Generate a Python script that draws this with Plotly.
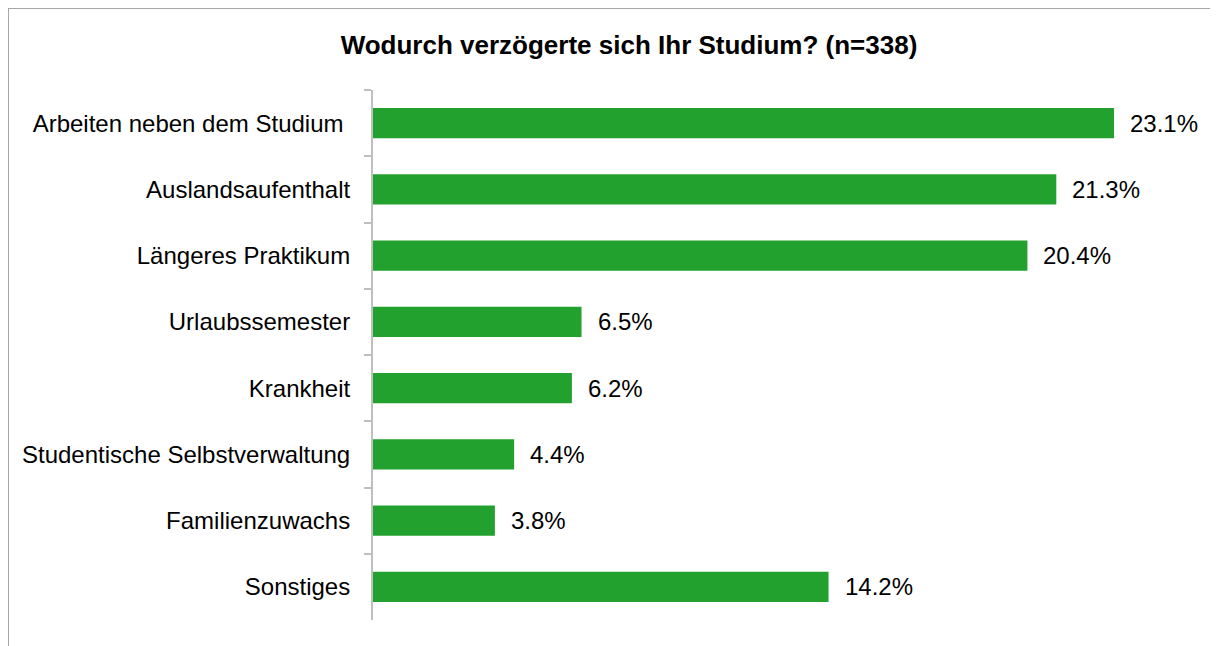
import plotly.graph_objects as go

# Daten aus der Grafik
categories = [
    "Arbeiten neben dem Studium\u00a0",
    "Auslandsaufenthalt",
    "Längeres Praktikum",
    "Urlaubssemester",
    "Krankheit",
    "Studentische Selbstverwaltung",
    "Familienzuwachs",
    "Sonstiges",
]
values = [23.1, 21.3, 20.4, 6.5, 6.2, 4.4, 3.8, 14.2]
value_labels = ["23.1%", "21.3%", "20.4%", "6.5%", "6.2%", "4.4%", "3.8%", "14.2%"]

# die Seite hat 8px Rand (body margin), daher etwas kleiner
W, H = 1210, 638
ML, MR, MT, MB = 365, 43, 82, 26
pw = W - ML - MR
ph = H - MT - MB

fig = go.Figure(
    go.Bar(
        x=values,
        y=categories,
        orientation="h",
        marker=dict(color="#23A12F", line=dict(width=0)),
        width=0.455,
        hoverinfo="skip",
    )
)

for v, c, t in zip(values, categories, value_labels):
    fig.add_annotation(
        x=v, y=c, text=t, showarrow=False,
        xanchor="left", yanchor="middle", xshift=14,
        font=dict(size=24, color="black"),
    )

# Rahmen um das Diagramm
fig.add_shape(
    type="rect", xref="paper", yref="paper",
    x0=(0 - ML) / pw, x1=(1208 - ML) / pw,
    y0=(H - MB - 700) / ph, y1=(H - MB - 0) / ph,
    line=dict(color="#A6A6A6", width=2),
    layer="below",
)

fig.update_layout(
    width=W,
    height=H,
    margin=dict(l=ML, r=MR, t=MT, b=MB),
    paper_bgcolor="white",
    plot_bgcolor="white",
    showlegend=False,
    font=dict(family="Liberation Sans, Arial, sans-serif", color="black"),
    title=dict(
        text="<b>Wodurch verzögerte sich Ihr Studium? (n=338)</b>",
        font=dict(size=26, color="black"),
        x=621 / W, xanchor="center",
        y=1 - 37 / H, yanchor="middle",
        xref="container", yref="container",
    ),
    xaxis=dict(
        range=[0, 25],
        visible=False,
        showgrid=False,
        zeroline=False,
    ),
    yaxis=dict(
        type="category",
        categoryorder="array",
        categoryarray=categories,
        range=[7.5, -0.5],
        showline=True,
        linecolor="#BFBFBF",
        linewidth=2,
        ticks="outside",
        tickson="boundaries",
        ticklen=7,
        tickwidth=2,
        tickcolor="#BFBFBF",
        ticklabelstandoff=16,
        tickfont=dict(size=24, color="black"),
        showgrid=False,
        zeroline=False,
    ),
)

fig.write_html("out.html")
